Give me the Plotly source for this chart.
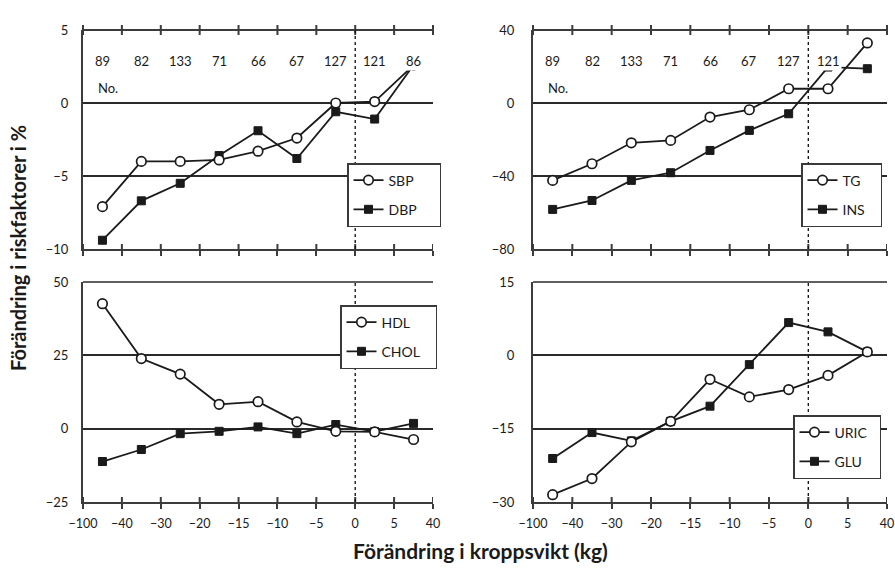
import plotly.graph_objects as go

# ---- data ----
bin_edges = ["\u2212100", "\u221240", "\u221230", "\u221220", "\u221215", "\u221210", "\u22125", "0", "5", "40"]
counts = [89, 82, 133, 71, 66, 67, 127, 121, 86]

sbp = [-7.1, -4.0, -4.0, -3.9, -3.3, -2.4, 0.0, 0.1, 2.6]
dbp = [-9.4, -6.7, -5.5, -3.6, -1.9, -3.8, -0.6, -1.1, 2.6]
tg = [-42.4, -33.3, -21.8, -20.5, -7.7, -3.7, 7.8, 7.8, 32.9]
ins = [-58.3, -53.4, -42.4, -38.2, -26.0, -15.0, -5.9, 19.7, 18.8]
hdl = [42.6, 23.9, 18.6, 8.3, 9.2, 2.3, -0.9, -1.1, -3.7]
chol = [-11.2, -7.1, -1.7, -0.9, 0.6, -1.7, 1.4, -1.0, 1.8]
uric = [-28.5, -25.2, -17.7, -13.5, -4.9, -8.5, -7.0, -4.1, 0.7]
glu = [-21.1, -15.8, -17.5, -13.5, -10.4, -1.9, 6.7, 4.8, 0.7]

y_ticks = {
    1: [-10, -5, 0, 5],
    2: [-80, -40, 0, 40],
    3: [-25, 0, 25, 50],
    4: [-30, -15, 0, 15],
}
panels = [
    (1, ("SBP", sbp), ("DBP", dbp)),
    (2, ("TG", tg), ("INS", ins)),
    (3, ("HDL", hdl), ("CHOL", chol)),
    (4, ("URIC", uric), ("GLU", glu)),
]

W, H = 895, 573
FONT = "Lato, 'Open Sans', sans-serif"
INK = "#1a1a1a"
GRID = "#2a2a2a"
AXIS = "#3c3c3c"
NB = "\u00a0"

n = len(counts)
xc = [i + 0.5 for i in range(n)]
edge_pos = list(range(n + 1))

# pixel geometry of plot areas
x_dom = {1: (83, 433), 2: (533, 887), 3: (83, 433), 4: (533, 887)}
y_dom = {1: (30, 249), 2: (30, 249), 3: (282, 502), 4: (282, 502)}
legend_pos = {1: (347, 163), 2: (801, 163), 3: (340, 305), 4: (793, 415)}
legend_pad = {1: 5, 2: 3, 3: 3, 4: 2}

fig = go.Figure()
layout = dict(
    width=W, height=H,
    margin=dict(l=0, r=0, t=0, b=0),
    paper_bgcolor="white", plot_bgcolor="white",
    font=dict(family=FONT, size=13, color=INK),
    showlegend=True,
)

shapes = []
annotations = []

for k, (open_name, open_vals), (fill_name, fill_vals) in panels:
    sx = "" if k == 1 else str(k)
    leg = "legend" if k == 1 else f"legend{k}"
    top = k in (1, 2)
    pad = NB * legend_pad[k]
    yt = y_ticks[k]

    # filled series first so the open circles sit on top
    fig.add_trace(go.Scatter(
        x=xc, y=fill_vals, name=fill_name + pad, mode="lines+markers",
        xaxis="x" + sx, yaxis="y" + sx, legend=leg, legendrank=2,
        legendgroup=f"f{k}",
        line=dict(color=INK, width=1.8),
        marker=dict(symbol="square", size=8, color=INK, line=dict(color=INK, width=1)),
    ))
    fig.add_trace(go.Scatter(
        x=xc, y=open_vals, name=open_name + pad, mode="lines+markers",
        xaxis="x" + sx, yaxis="y" + sx, legend=leg, legendrank=1,
        legendgroup=f"o{k}",
        line=dict(color=INK, width=1.8),
        marker=dict(symbol="circle", size=9.5, color="white", line=dict(color=INK, width=1.7)),
    ))

    x0p, x1p = x_dom[k]
    y0p, y1p = y_dom[k]
    xd = (x0p / W, x1p / W)
    yd = (1 - y1p / H, 1 - y0p / H)
    hpx = y1p - y0p
    layout["xaxis" + sx] = dict(
        domain=xd, anchor="y" + sx, range=[0, n], tickmode="array",
        tickvals=edge_pos, ticktext=bin_edges, showticklabels=not top,
        ticks="outside", ticklen=5, tickwidth=2, tickcolor=AXIS,
        ticklabelstandoff=4,
        showline=True, linecolor=AXIS, linewidth=2.2,
        showgrid=False, zeroline=False,
        tickfont=dict(size=12.5, family=FONT, color=INK),
        automargin=False, fixedrange=True,
    )
    layout["yaxis" + sx] = dict(
        domain=yd, anchor="x" + sx, range=[yt[0], yt[-1]], tickmode="array",
        tickvals=yt, ticks="outside", ticklen=10 if k in (1, 3) else 14,
        tickcolor="rgba(0,0,0,0)",
        showline=True, linecolor=AXIS, linewidth=2.2,
        showgrid=True, gridcolor=GRID, gridwidth=1.6, zeroline=False,
        tickfont=dict(size=13, family=FONT, color=INK),
        automargin=False, fixedrange=True,
    )
    # top edge line of each panel
    shapes.append(dict(type="line", xref="x" + sx + " domain", yref="y" + sx + " domain",
                       x0=0, x1=1, y0=1, y1=1, layer="above",
                       line=dict(color=AXIS if top else GRID, width=2.2 if top else 1.6)))
    # inward half of the bottom tick marks, and crossing ticks on the top line of upper panels
    for ep in edge_pos:
        shapes.append(dict(type="line", xref="x" + sx, yref="y" + sx + " domain",
                           x0=ep, x1=ep, y0=0, y1=5.0 / hpx, layer="above",
                           line=dict(color=AXIS, width=2)))
        if top:
            xp = xd[0] + (ep / n) * (xd[1] - xd[0])
            shapes.append(dict(type="line", xref="paper", yref="paper",
                               x0=xp, x1=xp, y0=yd[1] - 5.0 / H, y1=yd[1] + 5.0 / H,
                               layer="above", line=dict(color=AXIS, width=2)))
    # dashed reference line at 0 kg
    shapes.append(dict(type="line", xref="x" + sx, yref="y" + sx + " domain",
                       x0=bin_edges.index("0"), x1=bin_edges.index("0"), y0=0, y1=1,
                       line=dict(color=INK, width=1.4, dash="dot")))
    # legend box
    lx, ly = legend_pos[k]
    layout[leg] = dict(
        x=lx / W, y=1 - ly / H, xanchor="left", yanchor="top",
        bgcolor="white", bordercolor="#3a3a3a", borderwidth=1.5,
        font=dict(size=14, family=FONT, color=INK),
        tracegroupgap=8, itemwidth=30,
    )
    # counts row in upper panels
    if top:
        shown = counts if k == 1 else counts[:-1]
        for xi, c in zip(xc, shown):
            annotations.append(dict(
                x=xi, y=0.905, xref="x" + sx, yref="y" + sx + " domain",
                text=str(c), showarrow=False, bgcolor="white",
                font=dict(size=13, family=FONT, color=INK),
            ))
        annotations.append(dict(
            x=0.33, y=0.78, xref="x" + sx, yref="y" + sx + " domain",
            text="No.", showarrow=False, xanchor="left", bgcolor="white",
            font=dict(size=13, family=FONT, color=INK),
        ))

annotations.append(dict(
    x=18 / W, y=1 - 248 / H, xref="paper", yref="paper", textangle=-90,
    xanchor="center", yanchor="middle",
    text="<b>Förändring i riskfaktorer i %</b>", showarrow=False,
    font=dict(size=20, family=FONT, color=INK),
))
annotations.append(dict(
    x=480 / W, y=1 - 550 / H, xref="paper", yref="paper",
    xanchor="center", yanchor="middle",
    text="<b>Förändring i kroppsvikt (kg)</b>", showarrow=False,
    font=dict(size=21, family=FONT, color=INK),
))

layout["shapes"] = shapes
layout["annotations"] = annotations
fig.update_layout(**layout)
fig.write_html("out.html")
